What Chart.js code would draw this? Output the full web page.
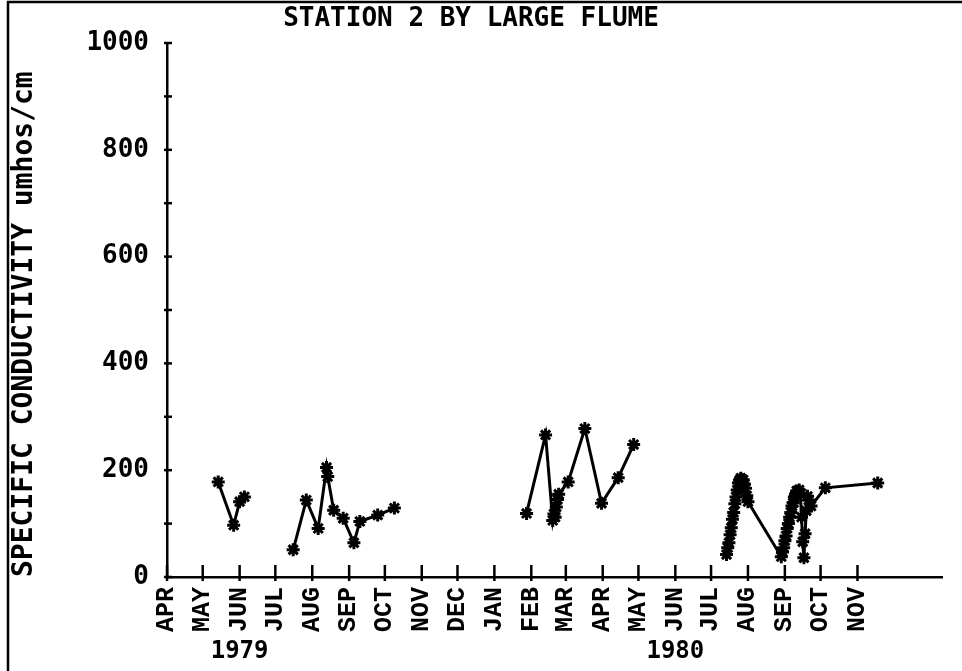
<!DOCTYPE html>
<html>
<head>
<meta charset="utf-8">
<title>Station 2 by large flume</title>
<script src="https://cdn.jsdelivr.net/npm/chart.js@4/dist/chart.umd.min.js"></script>
<style>
  html, body { margin: 0; padding: 0; background: #fff; }
  #wrap { width: 962px; height: 671px; position: relative; }
  canvas { display: block; }
</style>
</head>
<body>
<div id="wrap"><canvas id="c" width="962" height="671"></canvas></div>
<script>
// Sampling dates and specific conductivity (umhos/cm), one run of samples per array
const seg1Dates = ['1979-05-14', '1979-05-27', '1979-06-01', '1979-06-05'];
const seg1Values = [178, 97, 141, 150];

const seg2Dates = ['1979-07-16', '1979-07-27', '1979-08-06', '1979-08-13', '1979-08-14', '1979-08-19',
  '1979-08-27', '1979-09-05', '1979-09-10', '1979-09-25', '1979-10-09'];
const seg2Values = [51, 144, 91, 205, 188, 125, 110, 64, 104, 116, 129];

const seg3Dates = ['1980-01-28', '1980-02-13', '1980-02-19', '1980-02-20', '1980-02-21', '1980-02-22',
  '1980-02-23', '1980-02-24', '1980-03-03', '1980-03-17', '1980-03-31', '1980-04-14', '1980-04-27'];
const seg3Values = [119, 266, 106, 118, 112, 131, 145, 155, 178, 278, 138, 186, 248];

const seg4Dates = ['1980-07-14', '1980-07-15', '1980-07-16', '1980-07-17', '1980-07-18', '1980-07-19',
  '1980-07-20', '1980-07-21', '1980-07-22', '1980-07-23', '1980-07-24', '1980-07-25', '1980-07-26',
  '1980-07-27', '1980-07-28', '1980-07-29', '1980-07-30', '1980-07-31', '1980-08-01',
  '1980-08-29', '1980-08-30', '1980-08-31', '1980-09-01', '1980-09-02', '1980-09-03', '1980-09-04',
  '1980-09-05', '1980-09-06', '1980-09-07', '1980-09-08', '1980-09-09', '1980-09-10', '1980-09-11',
  '1980-09-12', '1980-09-13', '1980-09-14', '1980-09-15', '1980-09-16', '1980-09-17', '1980-09-18',
  '1980-09-19', '1980-09-20', '1980-09-21', '1980-09-23', '1980-10-05', '1980-11-18'];
const seg4Values = [42, 55, 64, 79, 92, 108, 121, 137, 150, 163, 176, 181, 185,
  178, 182, 174, 166, 152, 141,
  38, 47, 55, 68, 77, 91, 100,
  112, 121, 133, 139, 150, 154, 161,
  156, 163, 157, 112, 66, 36, 81,
  124, 151, 144, 133, 167, 176];

// Axis ticks
const monthTickDates = ['1979-04-01', '1979-05-01', '1979-06-01', '1979-07-01', '1979-08-01', '1979-09-01',
  '1979-10-01', '1979-11-01', '1979-12-01', '1980-01-01', '1980-02-01', '1980-03-01', '1980-04-01',
  '1980-05-01', '1980-06-01', '1980-07-01', '1980-08-01', '1980-09-01', '1980-10-01', '1980-11-01'];
const monthLabels = ['APR', 'MAY', 'JUN', 'JUL', 'AUG', 'SEP', 'OCT', 'NOV', 'DEC', 'JAN', 'FEB', 'MAR',
  'APR', 'MAY', 'JUN', 'JUL', 'AUG', 'SEP', 'OCT', 'NOV'];
const yearLabels = ['1979', '1980'];
const yearLabelDates = ['1979-06-01', '1980-06-01'];
const yTickLabels = ['0', '200', '400', '600', '800', '1000'];

const ORIGIN = Date.UTC(1979, 3, 1);
function dayOf(s) {
  const [y, m, d] = s.split('-').map(Number);
  return (Date.UTC(y, m - 1, d) - ORIGIN) / 86400000;
}
const ink = '#000';
const mono = '"DejaVu Sans Mono", "Liberation Mono", monospace';

function series(dates, values) {
  return {
    data: dates.map((d, i) => ({ x: dayOf(d), y: values[i] })),
    borderColor: ink,
    backgroundColor: ink,
    borderWidth: 3,
    pointStyle: 'star',
    pointRadius: 6.5,
    pointBorderWidth: 3,
    pointBorderColor: ink,
    pointBackgroundColor: ink,
    tension: 0,
    fill: false
  };
}

// Frame, crossing tick marks and the year captions under the month names
const plotterMarks = {
  id: 'plotterMarks',
  beforeDraw(chart) {
    const ctx = chart.ctx;
    ctx.save();
    ctx.fillStyle = '#fff';
    ctx.fillRect(0, 0, chart.width, chart.height);
    ctx.strokeStyle = ink;
    ctx.lineWidth = 2.5;
    ctx.beginPath();
    ctx.moveTo(8, chart.height);
    ctx.lineTo(8, 2);
    ctx.lineTo(chart.width, 2);
    ctx.stroke();
    ctx.restore();
  },
  afterDraw(chart) {
    const { ctx } = chart;
    const x = chart.scales.x, y = chart.scales.y;
    ctx.save();
    ctx.strokeStyle = ink;
    ctx.lineWidth = 2.5;
    x.ticks.forEach(t => {
      const px = x.getPixelForValue(t.value);
      ctx.beginPath();
      ctx.moveTo(px, y.bottom - 12);
      ctx.lineTo(px, y.bottom + 4);
      ctx.stroke();
    });
    y.ticks.forEach(t => {
      const py = y.getPixelForValue(t.value);
      ctx.beginPath();
      ctx.moveTo(x.left - 3, py);
      ctx.lineTo(x.left + 5, py);
      ctx.stroke();
    });
    ctx.fillStyle = ink;
    ctx.font = 'bold 24px ' + mono;
    ctx.textAlign = 'center';
    ctx.textBaseline = 'middle';
    yearLabels.forEach((lab, i) => {
      ctx.fillText(lab, x.getPixelForValue(dayOf(yearLabelDates[i])), 652);
    });
    ctx.restore();
  }
};

new Chart(document.getElementById('c'), {
  type: 'line',
  data: {
    datasets: [
      series(seg1Dates, seg1Values),
      series(seg2Dates, seg2Values),
      series(seg3Dates, seg3Values),
      series(seg4Dates, seg4Values)
    ]
  },
  options: {
    responsive: false,
    animation: false,
    devicePixelRatio: 1,
    layout: { padding: { left: 0, right: 20, top: 0, bottom: 0 } },
    plugins: {
      legend: { display: false },
      tooltip: { enabled: false },
      title: {
        display: true,
        text: 'STATION 2 BY LARGE FLUME',
        color: ink,
        font: { family: mono, weight: 'bold', size: 26, lineHeight: 1 },
        padding: { top: 6, bottom: 11 }
      }
    },
    scales: {
      x: {
        type: 'linear',
        min: 0,
        max: 651,
        afterBuildTicks: s => { s.ticks = monthTickDates.map(d => ({ value: dayOf(d) })); },
        afterFit: s => { s.height = 94; },
        grid: { display: false, drawTicks: false },
        border: { display: true, color: ink, width: 2.5 },
        ticks: {
          autoSkip: false,
          minRotation: 90,
          maxRotation: 90,
          padding: 10,
          color: ink,
          font: { family: '"Liberation Mono", monospace', weight: 'bold', size: 25 },
          callback: (v, i) => monthLabels[i]
        }
      },
      y: {
        min: 0,
        max: 1000,
        afterFit: s => { s.width = 167; },
        grid: { display: false, drawTicks: false },
        border: { display: true, color: ink, width: 2.5 },
        ticks: {
          stepSize: 100,
          padding: 18,
          color: ink,
          font: { family: mono, weight: 'bold', size: 26 },
          callback: v => (v % 200 === 0 ? yTickLabels[v / 200] : '')
        },
        title: {
          display: true,
          text: 'SPECIFIC CONDUCTIVITY umhos/cm',
          align: 'start',
          color: ink,
          font: { family: mono, weight: 'bold', size: 28, lineHeight: 1 },
          padding: { top: 11, bottom: 0 }
        }
      }
    }
  },
  plugins: [plotterMarks]
});
</script>
</body>
</html>
